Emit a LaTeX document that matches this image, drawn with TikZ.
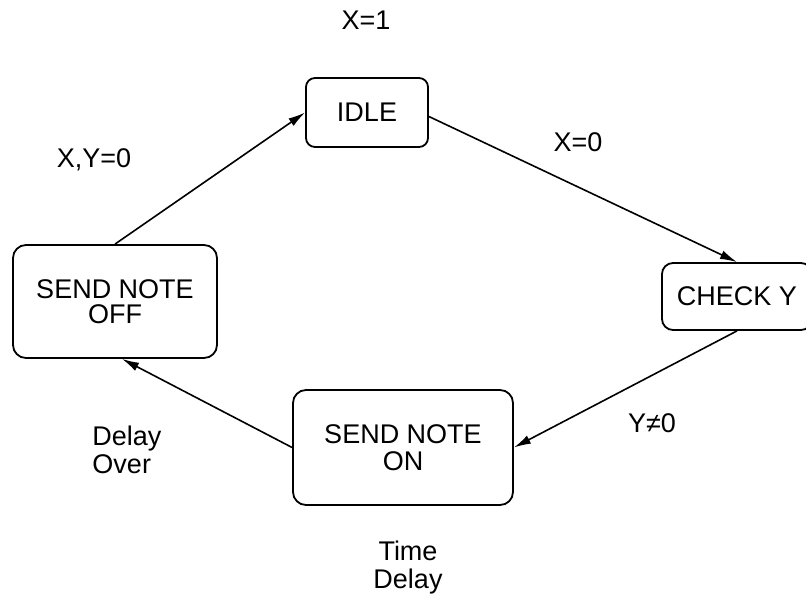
\documentclass[tikz,border=0pt]{standalone}
\usepackage{fontspec}
\setmainfont{Liberation Sans}
\usetikzlibrary{arrows.meta}
\begin{document}
\begin{tikzpicture}[x=1pt,y=-1pt,
  statebox/.style={draw,line width=1.8pt,align=center,inner sep=0pt,
    font=\fontsize{27}{27}\selectfont},
  lbl/.style={align=center,inner sep=0pt,font=\fontsize{27}{28}\selectfont},
  conn/.style={line width=1.6pt,-{Latex[length=17pt,width=9pt]}}]
\useasboundingbox (0,0) rectangle (806,599);
\node[statebox,rounded corners=9pt,minimum width=122pt,minimum height=69pt] (idle) at (367,112.5) {IDLE};
\node[statebox,rounded corners=11pt,minimum width=150pt,minimum height=67pt] (check) at (737,296.5) {CHECK Y};
\node[statebox,rounded corners=13pt,minimum width=204pt,minimum height=113pt] (off) at (115,301.5) {SEND NOTE\\[-2pt]OFF};
\node[statebox,rounded corners=13pt,minimum width=220pt,minimum height=115pt] (on) at (403,447.5) {SEND NOTE\\ON};
\node[lbl] (x1) at (366,20) {X=1};
\node[lbl] (xy0) at (94,160) {X,Y=0};
\node[lbl] (x0) at (578,142) {X=0};
\node[lbl] (yn0) at (652,423) {Y≠0};
\node[lbl,align=left] (dover) at (127,450) {Delay\\Over};
\node[lbl] (tdelay) at (408,568) {Time\\Delay};
\draw[conn] (off.north) -- (idle.west);
\draw[conn] ([yshift=-4pt]idle.east) -- (check.north);
\draw[conn] (check.south) -- (on.east);
\draw[conn] (on.west) -- ([xshift=7pt]off.south);
\end{tikzpicture}
\end{document}
